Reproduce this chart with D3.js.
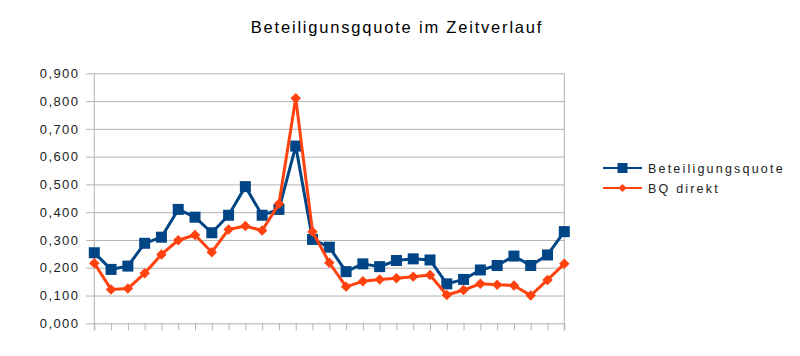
<!DOCTYPE html>
<html>
<head>
<meta charset="utf-8">
<script src="https://cdn.jsdelivr.net/npm/d3@7/dist/d3.min.js"></script>
<style>
  body { margin: 0; background: #fff; }
  svg { display: block; font-family: "Liberation Sans", Arial, sans-serif; }
</style>
</head>
<body>
<svg id="chart" width="800" height="356"></svg>
<script>
const title = "Beteiligunsgquote im Zeitverlauf";
const categories = d3.range(1, 30);
const seriesNames = ["Beteiligungsquote", "BQ direkt"];
const beteiligungsquote = [0.254, 0.194, 0.206, 0.288, 0.310, 0.410, 0.382, 0.326, 0.389, 0.492,
  0.389, 0.410, 0.638, 0.302, 0.274, 0.186, 0.214, 0.204, 0.226, 0.232,
  0.228, 0.142, 0.158, 0.192, 0.208, 0.242, 0.208, 0.246, 0.330];
const bqDirekt = [0.216, 0.122, 0.125, 0.180, 0.248, 0.299, 0.318, 0.256, 0.338, 0.350,
  0.334, 0.430, 0.810, 0.330, 0.218, 0.132, 0.151, 0.158, 0.162, 0.168,
  0.174, 0.102, 0.120, 0.142, 0.139, 0.136, 0.100, 0.156, 0.214];
const yTicks = [0, 0.1, 0.2, 0.3, 0.4, 0.5, 0.6, 0.7, 0.8, 0.9];

const svg = d3.select("#chart");
const pLeft = 94.3, pRight = 564.3, pTop = 73.3, pBottom = 323.3;
const grid = "#b3b3b3";

const x = d3.scalePoint().domain(categories).range([pLeft, pRight]);
const y = d3.scaleLinear().domain([0, 0.9]).range([pBottom, pTop]);

// title
svg.append("text").attr("x", 397).attr("y", 33).attr("text-anchor", "middle")
  .attr("font-size", 16.5).attr("letter-spacing", "1.8px").attr("fill", "#000").text(title);

// y grid + axis
const fmt = v => d3.format(".3f")(v).replace(".", ",");
const yAxis = d3.axisLeft(y).tickValues(yTicks).tickFormat(fmt)
  .tickSize(-(pRight - pLeft)).tickPadding(10);
const gy = svg.append("g").attr("transform", `translate(${pLeft},0)`).call(yAxis);
gy.select(".domain").remove();
gy.selectAll(".tick line").attr("stroke", grid).attr("x1", -8);
gy.selectAll(".tick text").attr("font-size", 13).attr("letter-spacing", "1.4px")
  .attr("fill", "#222").attr("font-family", "Liberation Sans, Arial, sans-serif").attr("x", -15);

// x axis ticks
const xAxis = d3.axisBottom(x).tickSize(7).tickFormat("");
const gx = svg.append("g").attr("transform", `translate(0,${pBottom})`).call(xAxis);
gx.select(".domain").remove();
gx.selectAll(".tick line").attr("stroke", grid);

// vertical borders
svg.append("line").attr("x1", pLeft).attr("x2", pLeft).attr("y1", pTop).attr("y2", pBottom + 7).attr("stroke", grid);
svg.append("line").attr("x1", pRight).attr("x2", pRight).attr("y1", pTop).attr("y2", pBottom + 7).attr("stroke", grid);

const blue = "#004586", red = "#ff420e";
const line = d3.line().x((d, i) => x(categories[i])).y(d => y(d));

// blue series
svg.append("path").datum(beteiligungsquote).attr("d", line).attr("fill", "none")
  .attr("stroke", blue).attr("stroke-width", 3).attr("stroke-linejoin", "round");
svg.append("g").selectAll("rect").data(beteiligungsquote).join("rect")
  .attr("x", (d, i) => x(categories[i]) - 5.5).attr("y", d => y(d) - 5.5)
  .attr("width", 11).attr("height", 11).attr("fill", blue);

// red series
svg.append("path").datum(bqDirekt).attr("d", line).attr("fill", "none")
  .attr("stroke", red).attr("stroke-width", 3).attr("stroke-linejoin", "round");
const diamond = d3.symbol().type(d3.symbolDiamond2).size(70);
svg.append("g").selectAll("path").data(bqDirekt).join("path")
  .attr("transform", (d, i) => `translate(${x(categories[i])},${y(d)})`)
  .attr("d", diamond).attr("fill", red);

// legend
const lg = svg.append("g");
const rows = [{name: seriesNames[0], color: blue, sym: "sq", y: 168},
              {name: seriesNames[1], color: red, sym: "dm", y: 188}];
rows.forEach(r => {
  lg.append("line").attr("x1", 603).attr("x2", 642).attr("y1", r.y).attr("y2", r.y)
    .attr("stroke", r.color).attr("stroke-width", 2);
  if (r.sym === "sq") {
    lg.append("rect").attr("x", 617.5).attr("y", r.y - 5).attr("width", 10).attr("height", 10).attr("fill", r.color);
  } else {
    lg.append("path").attr("transform", `translate(622.5,${r.y})`)
      .attr("d", d3.symbol().type(d3.symbolDiamond2).size(40)).attr("fill", r.color);
  }
  lg.append("text").attr("x", 648).attr("y", r.y + 4.5).attr("font-size", 12.5)
    .attr("letter-spacing", "2.2px").attr("fill", "#222").text(r.name);
});
</script>
</body>
</html>
